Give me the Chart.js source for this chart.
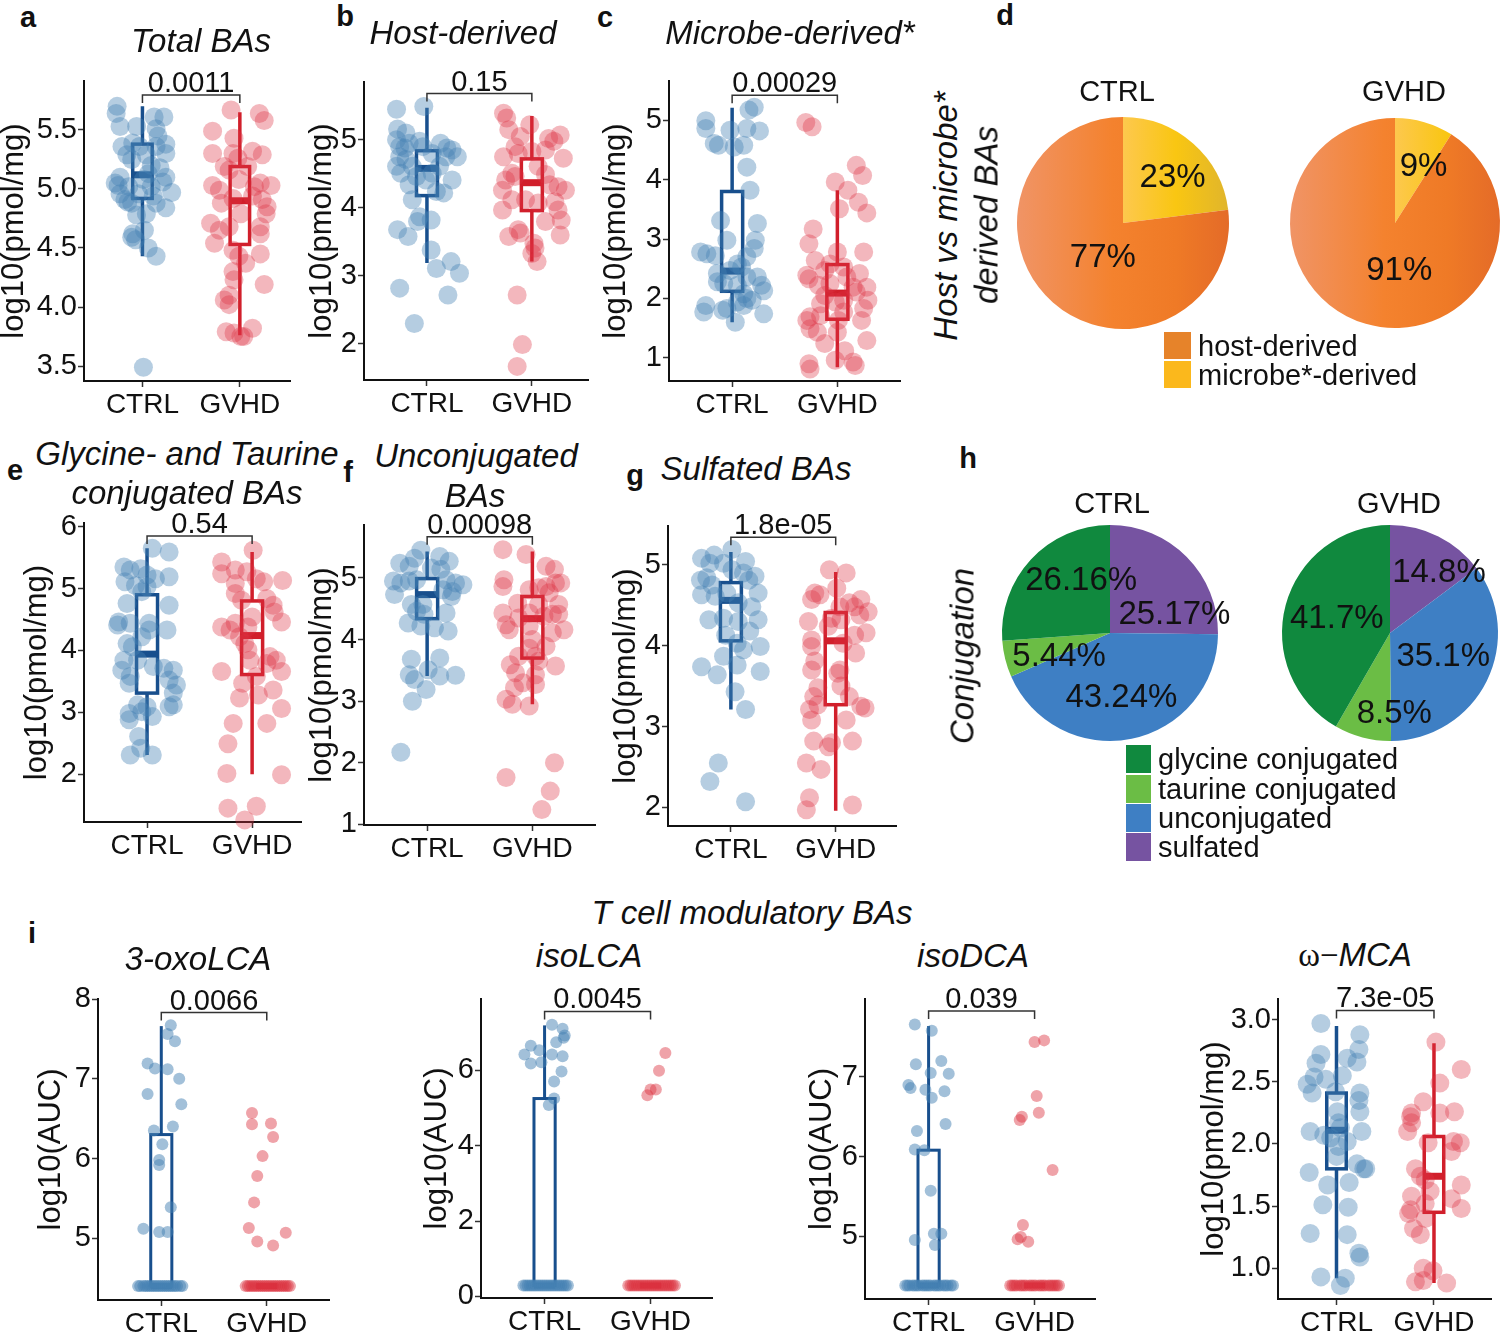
<!DOCTYPE html>
<html>
<head>
<meta charset="utf-8">
<script src="https://cdn.jsdelivr.net/npm/chart.js@4.4.1/dist/chart.umd.min.js"></script>
<style>
  html, body { margin: 0; padding: 0; background: #fff; }
  body { position: relative; width: 1500px; height: 1332px; overflow: hidden;
         font-family: "Liberation Sans", Arial, Helvetica, sans-serif; color: #111; }
  .lbl { position: absolute; white-space: nowrap; line-height: 1; transform: translate(-50%, -50%); }
  .rot { transform: translate(-50%, -50%) rotate(-90deg); }
  .panel { position: absolute; }
  .sq { position: absolute; }
  .key { position: absolute; white-space: nowrap; line-height: 1; transform: translateY(-50%); font-size: 29px; }
</style>
</head>
<body>
<script>
// ===== DATA =====
const groups = ['CTRL', 'GVHD'];

// a - Total BAs  ([jitter, log10 value])
const totalCtrl = [[-0.26,5.70],[-0.27,5.64],[-0.23,5.53],[-0.06,5.53],[0.12,5.61],[0.22,5.61],[0.14,5.51],[0.16,5.45],
  [-0.21,5.36],[-0.10,5.39],[-0.03,5.36],[0.24,5.38],[0.14,5.36],[-0.16,5.29],[-0.11,5.25],[0.04,5.29],
  [0.24,5.30],[0.09,5.20],[0.06,5.13],[0.18,5.18],[0.24,5.10],[0.21,5.06],[-0.23,5.10],[-0.28,5.05],
  [-0.25,5.03],[-0.14,5.02],[-0.04,4.96],[0.09,5.02],[0.30,4.97],[-0.23,4.96],[-0.18,4.91],[-0.15,4.89],
  [-0.11,4.88],[0.14,4.88],[0.24,4.84],[-0.06,4.78],[0.04,4.79],[0.02,4.65],[-0.10,4.62],[-0.11,4.59],
  [-0.07,4.57],[0.06,4.50],[0.14,4.43],[0.01,3.49],[0.11,4.94],[0.01,5.08]];
const totalGvhd = [[-0.09,5.67],[0.20,5.64],[0.25,5.58],[-0.28,5.49],[-0.06,5.43],[-0.28,5.30],[-0.07,5.30],[-0.02,5.26],
  [0.13,5.32],[0.23,5.29],[-0.16,5.19],[-0.11,5.16],[0.08,5.19],[-0.28,5.03],[-0.21,4.99],[-0.01,5.08],
  [0.15,5.02],[0.21,5.05],[0.32,5.03],[-0.19,4.88],[-0.07,4.92],[0.13,4.94],[0.23,4.91],[0.28,4.85],
  [0.27,4.79],[-0.30,4.71],[-0.21,4.65],[-0.11,4.68],[0.01,4.79],[0.21,4.68],[0.21,4.62],[-0.26,4.54],
  [-0.07,4.48],[-0.01,4.43],[0.06,4.37],[0.21,4.45],[-0.07,4.30],[-0.06,4.23],[0.25,4.19],[-0.11,4.10],
  [-0.16,4.06],[-0.11,4.02],[-0.06,3.78],[0.01,3.75],[0.13,3.82],[-0.14,3.79],[0.04,3.75]];
const totalStats = [[4.43,4.92,5.12,5.38,5.70],[3.76,4.53,4.90,5.19,5.65]]; // lo, q1, median, q3, hi
const totalTicks = [3.5, 4.0, 4.5, 5.0, 5.5];
const totalP = '0.0011';

// b - Host-derived
const hostCtrl = [[-0.29,5.45],[-0.03,5.49],[-0.28,5.16],[-0.20,5.10],[-0.29,5.00],[-0.26,4.90],[-0.21,4.88],[-0.07,4.98],
  [-0.04,4.90],[0.13,4.95],[0.19,4.88],[0.24,4.85],[-0.26,4.75],[-0.20,4.71],[0.18,4.75],[0.29,4.75],
  [-0.29,4.61],[-0.25,4.51],[-0.14,4.61],[-0.10,4.46],[0.05,4.51],[0.12,4.61],[0.24,4.41],[-0.17,4.34],
  [-0.01,4.41],[0.09,4.24],[0.16,4.22],[-0.14,4.12],[-0.07,3.87],[-0.09,3.80],[0.04,3.82],[-0.28,3.68],
  [-0.18,3.58],[0.04,3.38],[0.23,3.21],[0.09,3.11],[0.31,3.04],[-0.26,2.82],[0.20,2.72],[-0.12,2.30],
  [-0.17,4.95],[0.05,4.80]];
const hostGvhd = [[-0.27,5.39],[-0.24,5.32],[-0.02,5.22],[-0.22,5.15],[-0.11,5.05],[0.16,5.02],[0.27,5.07],[0.21,4.98],
  [-0.27,4.75],[-0.16,4.90],[0.00,4.83],[0.13,4.85],[-0.13,4.80],[0.30,4.73],[-0.19,4.51],[-0.25,4.41],
  [-0.16,4.46],[0.06,4.61],[0.13,4.49],[0.17,4.34],[0.25,4.31],[0.32,4.26],[-0.28,4.26],[-0.19,4.12],
  [-0.28,3.97],[-0.06,4.12],[0.06,4.07],[0.22,4.09],[0.25,3.97],[0.28,3.82],[0.13,3.80],[-0.13,3.68],
  [-0.22,3.58],[-0.11,3.63],[0.27,3.60],[0.02,3.48],[0.03,3.41],[0.00,3.33],[0.05,3.21],[-0.14,2.72],
  [-0.09,1.99],[-0.14,1.67]];
const hostStats = [[3.19,4.18,4.58,4.84,5.47],[3.21,3.96,4.37,4.72,5.35]];
const hostTicks = [2, 3, 4, 5];
const hostP = '0.15';

// c - Microbe-derived*
const microbeCtrl = [[-0.25,4.99],[-0.25,4.86],[-0.02,4.83],[0.14,4.86],[0.26,4.82],[0.16,5.17],[0.21,5.22],[-0.17,4.61],
  [-0.13,4.58],[0.02,4.55],[0.11,4.58],[0.14,4.21],[0.17,3.82],[-0.11,3.31],[0.24,3.26],[-0.05,2.98],
  [0.22,2.98],[-0.30,2.78],[-0.24,2.75],[-0.16,2.72],[0.21,2.84],[0.14,2.70],[0.05,2.58],[0.09,2.53],
  [-0.02,2.47],[-0.14,2.42],[0.14,2.36],[0.24,2.36],[-0.14,2.28],[-0.08,2.25],[0.05,2.22],[0.28,2.22],
  [0.30,2.13],[0.11,2.08],[0.14,2.00],[0.05,1.94],[0.11,1.88],[-0.25,1.88],[-0.27,1.77],[-0.09,1.80],
  [-0.05,1.83],[0.30,1.74],[0.03,1.60],[0.19,1.97]];
const microbeGvhd = [[-0.30,4.96],[-0.24,4.89],[0.18,4.24],[0.24,4.07],[-0.02,3.96],[0.10,3.82],[0.20,3.62],[0.02,3.51],
  [0.28,3.44],[-0.23,3.17],[-0.27,2.92],[0.00,2.78],[0.25,2.78],[-0.21,2.64],[-0.07,2.58],[-0.12,2.47],
  [0.06,2.53],[0.21,2.42],[-0.29,2.39],[-0.27,2.33],[-0.18,2.22],[-0.07,2.25],[0.09,2.36],[0.15,2.19],
  [0.18,2.11],[0.28,2.19],[-0.12,2.05],[0.06,1.97],[-0.02,1.94],[-0.16,1.91],[0.29,1.97],[0.25,1.83],
  [0.06,1.77],[-0.26,1.69],[-0.16,1.71],[-0.29,1.63],[0.01,1.63],[0.23,1.63],[-0.26,1.49],[-0.19,1.43],
  [0.00,1.43],[0.28,1.29],[-0.12,1.24],[0.07,1.12],[-0.02,0.96],[-0.27,0.90],[-0.26,0.81],[0.15,0.93],
  [0.17,0.87]];
const microbeStats = [[1.60,2.12,2.46,3.80,5.21],[0.84,1.65,2.09,2.57,3.82]];
const microbeTicks = [1, 2, 3, 4, 5];
const microbeP = '0.00029';

// d - host vs microbe* pies (microbe first, clockwise from 12 o'clock)
const originLabels = ['microbe*-derived', 'host-derived'];
const originCtrl = [23, 77];
const originGvhd = [9, 91];

// e - Glycine- and Taurine conjugated
const conjCtrl = [[0.05,5.65],[0.21,5.59],[-0.22,5.35],[-0.16,5.30],[-0.06,5.32],[0.00,5.22],[0.08,5.16],[0.21,5.19],
  [-0.21,5.11],[-0.11,5.05],[0.00,5.03],[-0.05,4.95],[-0.19,4.76],[0.21,4.73],[-0.27,4.46],[-0.28,4.41],
  [-0.16,4.44],[0.02,4.44],[0.02,4.33],[0.19,4.33],[-0.19,4.11],[-0.14,4.06],[-0.05,4.22],[-0.22,3.84],
  [-0.09,3.84],[-0.24,3.68],[-0.16,3.58],[0.06,3.74],[0.16,3.71],[0.25,3.68],[-0.17,3.47],[0.21,3.52],
  [0.28,3.44],[0.25,3.31],[0.25,3.12],[0.21,3.09],[-0.09,3.12],[0.00,3.09],[-0.17,2.98],[-0.05,3.01],
  [0.05,2.93],[-0.17,2.88],[-0.08,2.61],[-0.06,2.42],[-0.16,2.31],[0.05,2.31]];
const conjGvhd = [[0.01,5.62],[-0.29,5.43],[-0.29,5.24],[-0.16,5.30],[-0.05,5.27],[0.04,5.16],[0.11,5.11],[0.29,5.13],
  [-0.16,5.08],[-0.16,4.92],[-0.10,4.81],[0.14,4.84],[0.20,4.73],[0.21,4.62],[0.28,4.46],[0.00,4.54],
  [-0.29,4.38],[-0.21,4.33],[-0.16,4.44],[-0.04,4.38],[-0.12,4.22],[-0.07,4.11],[-0.04,4.01],[-0.02,3.84],
  [0.17,3.90],[0.23,3.84],[0.14,3.79],[-0.29,3.66],[0.28,3.66],[0.04,3.58],[-0.09,3.47],[0.20,3.36],
  [-0.12,3.23],[0.06,3.28],[0.28,3.06],[-0.18,2.82],[0.14,2.82],[-0.23,2.49],[-0.24,2.01],[0.28,1.99],
  [-0.23,1.45],[0.04,1.48],[-0.07,1.26]];
const conjStats = [[2.31,3.31,3.94,4.90,5.65],[2.00,3.61,4.24,4.80,5.59]];
const conjTicks = [2, 3, 4, 5, 6];
const conjP = '0.54';

// f - Unconjugated
const unconjCtrl = [[-0.06,5.45],[-0.26,5.24],[-0.12,5.32],[0.12,5.35],[0.21,5.27],[-0.17,5.19],[0.04,5.16],[0.13,5.14],
  [-0.32,4.95],[-0.25,4.92],[-0.17,4.95],[-0.10,4.97],[0.18,4.97],[0.27,4.92],[0.34,4.89],[-0.31,4.73],
  [0.15,4.81],[0.24,4.78],[0.23,4.70],[-0.15,4.57],[-0.04,4.57],[0.18,4.43],[-0.10,4.46],[-0.03,4.41],
  [-0.18,4.27],[-0.06,4.22],[0.07,4.19],[0.20,4.14],[-0.15,3.68],[0.12,3.70],[-0.17,3.43],[0.01,3.51],
  [0.12,3.41],[0.27,3.42],[-0.12,3.35],[-0.01,3.19],[-0.14,3.00],[-0.25,2.17]];
const unconjGvhd = [[-0.28,5.46],[-0.06,5.38],[0.13,5.19],[0.21,5.14],[-0.27,4.97],[-0.28,4.86],[-0.03,4.81],[0.06,4.84],
  [0.13,4.86],[0.22,4.92],[0.27,4.92],[0.16,4.76],[-0.14,4.59],[0.06,4.57],[0.25,4.57],[-0.28,4.43],
  [-0.03,4.43],[0.19,4.41],[0.25,4.41],[-0.13,4.35],[0.11,4.38],[-0.25,4.24],[-0.22,4.16],[-0.03,4.22],
  [0.19,4.11],[0.30,4.16],[0.00,4.00],[-0.03,3.86],[-0.13,3.73],[0.03,3.73],[0.13,3.89],[0.06,3.65],
  [-0.21,3.59],[0.22,3.57],[-0.16,3.46],[0.03,3.43],[-0.09,3.30],[-0.17,3.22],[0.03,3.27],[-0.25,3.03],
  [-0.19,2.95],[-0.03,2.92],[-0.25,1.76],[0.21,2.00],[0.17,1.54],[0.09,1.24]];
const unconjStats = [[3.41,4.34,4.73,4.99,5.43],[2.95,3.70,4.34,4.70,5.43]];
const unconjTicks = [1, 2, 3, 4, 5];
const unconjP = '0.00098';

// g - Sulfated
const sulfCtrl = [[0.01,5.19],[-0.28,5.08],[-0.16,5.12],[-0.20,5.02],[-0.07,5.02],[0.14,5.04],[0.01,4.94],[0.12,4.90],
  [-0.29,4.81],[-0.23,4.84],[0.23,4.86],[0.17,4.81],[-0.18,4.75],[-0.28,4.63],[-0.15,4.61],[-0.04,4.65],
  [0.26,4.65],[0.07,4.53],[0.20,4.48],[-0.21,4.32],[-0.07,4.34],[0.07,4.30],[0.26,4.32],[0.18,4.18],
  [-0.05,4.13],[0.06,4.03],[0.12,3.95],[0.28,3.99],[-0.07,3.87],[0.06,3.76],[-0.28,3.74],[0.28,3.68],
  [-0.13,3.64],[0.04,3.43],[0.14,3.21],[-0.12,2.55],[-0.20,2.32],[0.14,2.07]];
const sulfGvhd = [[-0.06,4.94],[0.10,4.90],[0.01,4.71],[-0.20,4.65],[-0.15,4.63],[-0.23,4.57],[0.24,4.57],[0.13,4.53],
  [0.18,4.48],[0.04,4.48],[0.31,4.42],[0.23,4.38],[-0.04,4.34],[0.05,4.32],[-0.26,4.30],[-0.07,4.24],
  [0.29,4.16],[0.18,4.13],[-0.23,4.07],[-0.23,3.99],[0.07,4.03],[0.19,3.91],[-0.20,3.81],[-0.23,3.70],
  [0.04,3.70],[0.02,3.66],[0.05,3.50],[-0.17,3.48],[-0.21,3.37],[0.13,3.37],[-0.25,3.21],[-0.17,3.27],
  [0.24,3.25],[0.28,3.23],[-0.23,3.08],[0.10,3.08],[-0.21,2.82],[-0.07,2.75],[-0.04,2.80],[0.16,2.82],
  [-0.28,2.55],[-0.14,2.47],[-0.25,2.12],[-0.28,1.97],[0.16,2.03]];
const sulfStats = [[3.21,4.06,4.56,4.78,5.16],[1.96,3.27,4.06,4.41,4.91]];
const sulfTicks = [2, 3, 4, 5];
const sulfP = '1.8e-05';

// h - conjugation pies (sulfated, unconjugated, taurine, glycine; clockwise from 12 o'clock)
const conjLabels = ['sulfated', 'unconjugated', 'taurine conjugated', 'glycine conjugated'];
const conjPieCtrl = [25.17, 43.24, 5.44, 26.16];
const conjPieGvhd = [14.8, 35.1, 8.5, 41.7];

// i - T cell modulatory BAs
const oxoCtrl = [[0.09,7.67],[0.06,7.56],[0.13,7.47],[-0.13,7.19],[-0.06,7.13],[0.06,7.12],[0.17,7.00],[-0.13,6.81],
  [0.19,6.68],[0.11,6.40],[-0.07,6.35],[0.01,6.18],[-0.02,5.98],[-0.02,5.92],[0.09,5.39],[-0.17,5.12],
  [-0.02,5.08],[0.06,5.08],
  [-0.22,4.40],[-0.20,4.40],[-0.17,4.40],[-0.15,4.40],[-0.13,4.40],[-0.11,4.40],[-0.09,4.40],[-0.07,4.40],
  [-0.05,4.40],[-0.03,4.40],[-0.01,4.40],[0.01,4.40],[0.03,4.40],[0.05,4.40],[0.07,4.40],[0.09,4.40],
  [0.11,4.40],[0.13,4.40],[0.15,4.40],[0.18,4.40],[0.20,4.40]];
const oxoGvhd = [[-0.14,6.57],[-0.14,6.43],[0.04,6.44],[0.06,6.27],[-0.04,6.03],[-0.09,5.78],[-0.12,5.45],[-0.17,5.13],
  [0.18,5.07],[-0.09,4.96],[0.06,4.91],
  [-0.20,4.40],[-0.18,4.40],[-0.16,4.40],[-0.14,4.40],[-0.12,4.40],[-0.10,4.40],[-0.08,4.40],[-0.06,4.40],
  [-0.04,4.40],[-0.02,4.40],[0.00,4.40],[0.02,4.40],[0.04,4.40],[0.06,4.40],[0.08,4.40],[0.10,4.40],
  [0.12,4.40],[0.14,4.40],[0.16,4.40],[0.18,4.40],[0.20,4.40],[0.22,4.40]];
const oxoStats = [[4.40,4.40,4.40,6.30,7.66],[4.40,4.40,4.40,4.40,4.40]];
const oxoTicks = [5, 6, 7, 8];
const oxoP = '0.0066';

const isoLcaCtrl = [[0.07,7.21],[0.17,7.10],[0.18,6.86],[0.11,6.74],[-0.13,6.65],[-0.05,6.53],[-0.19,6.42],[0.07,6.42],
  [0.17,6.37],[-0.13,6.18],[-0.03,6.21],[0.16,5.97],[0.09,5.70],[0.09,5.25],[0.04,5.08],[0.19,6.92],
  [-0.20,0.29],[-0.18,0.29],[-0.16,0.29],[-0.14,0.29],[-0.12,0.29],[-0.10,0.29],[-0.08,0.29],[-0.06,0.29],
  [-0.04,0.29],[-0.02,0.29],[0.00,0.29],[0.02,0.29],[0.04,0.29],[0.06,0.29],[0.08,0.29],[0.10,0.29],
  [0.12,0.29],[0.14,0.29],[0.16,0.29],[0.18,0.29],[0.20,0.29],[0.22,0.29]];
const isoLcaGvhd = [[0.14,6.46],[0.08,5.99],[0.05,5.49],[0.00,5.49],[-0.03,5.34],
  [-0.21,0.29],[-0.19,0.29],[-0.17,0.29],[-0.15,0.29],[-0.13,0.29],[-0.11,0.29],[-0.09,0.29],[-0.07,0.29],
  [-0.05,0.29],[-0.03,0.29],[-0.01,0.29],[0.01,0.29],[0.03,0.29],[0.05,0.29],[0.07,0.29],[0.09,0.29],
  [0.11,0.29],[0.13,0.29],[0.15,0.29],[0.17,0.29],[0.19,0.29],[0.21,0.29],[0.23,0.29]];
const isoLcaStats = [[0.29,0.29,0.29,5.25,7.19],[0.29,0.29,0.29,0.29,0.29]];
const isoLcaTicks = [0, 2, 4, 6];
const isoLcaP = '0.0045';

const isoDcaCtrl = [[-0.13,7.66],[0.03,7.58],[-0.12,7.16],[0.12,7.20],[0.02,7.05],[0.19,7.04],[-0.19,6.90],[-0.17,6.86],
  [-0.03,6.84],[0.15,6.82],[0.03,6.74],[0.16,6.41],[-0.11,6.32],[-0.13,6.09],[-0.04,6.08],[0.02,5.57],
  [-0.13,4.95],[0.05,5.03],[0.12,5.03],[0.06,4.89],
  [-0.22,4.38],[-0.20,4.38],[-0.18,4.38],[-0.15,4.38],[-0.13,4.38],[-0.11,4.38],[-0.09,4.38],[-0.06,4.38],
  [-0.04,4.38],[-0.02,4.38],[0.00,4.38],[0.02,4.38],[0.05,4.38],[0.07,4.38],[0.09,4.38],[0.11,4.38],
  [0.14,4.38],[0.16,4.38],[0.18,4.38],[0.21,4.38],[0.23,4.38]];
const isoDcaGvhd = [[0.00,7.44],[0.09,7.46],[0.02,6.76],[0.04,6.55],[-0.12,6.50],[-0.14,6.46],[0.17,5.83],[-0.11,5.14],
  [-0.13,4.99],[-0.16,4.96],[-0.06,4.93],
  [-0.23,4.38],[-0.21,4.38],[-0.19,4.38],[-0.17,4.38],[-0.14,4.38],[-0.12,4.38],[-0.10,4.38],[-0.08,4.38],
  [-0.05,4.38],[-0.03,4.38],[-0.01,4.38],[0.01,4.38],[0.04,4.38],[0.06,4.38],[0.08,4.38],[0.10,4.38],
  [0.13,4.38],[0.15,4.38],[0.17,4.38],[0.19,4.38],[0.21,4.38],[0.23,4.38]];
const isoDcaStats = [[4.38,4.38,4.38,6.08,7.64],[4.38,4.38,4.38,4.38,4.38]];
const isoDcaTicks = [5, 6, 7];
const isoDcaP = '0.039';

const mcaCtrl = [[-0.16,2.97],[0.24,2.88],[-0.16,2.72],[0.11,2.69],[0.23,2.76],[0.21,2.66],[-0.21,2.65],[-0.23,2.54],
  [-0.11,2.52],[0.06,2.55],[-0.30,2.48],[-0.25,2.41],[0.24,2.41],[0.23,2.35],[-0.01,2.42],[0.01,2.26],
  [0.24,2.26],[0.02,2.17],[0.04,2.13],[-0.27,2.10],[0.26,2.10],[-0.13,2.07],[-0.06,2.05],[0.11,2.02],
  [0.02,1.98],[0.00,1.90],[0.21,1.84],[0.28,1.80],[0.30,1.80],[-0.28,1.77],[0.13,1.69],[-0.09,1.67],
  [-0.14,1.51],[0.12,1.49],[-0.27,1.28],[0.11,1.27],[0.23,1.12],[0.24,1.09],[-0.16,0.93],[0.09,0.92],
  [0.04,0.86]];
const mcaGvhd = [[0.02,2.82],[0.06,2.49],[0.28,2.60],[-0.11,2.34],[-0.23,2.25],[0.06,2.25],[0.21,2.26],[-0.24,2.22],
  [-0.23,2.17],[-0.27,2.10],[-0.06,2.01],[0.20,2.02],[0.27,2.01],[0.18,1.94],[-0.19,1.80],[-0.14,1.74],
  [-0.09,1.71],[0.28,1.67],[-0.04,1.62],[-0.23,1.58],[0.18,1.56],[0.28,1.48],[-0.24,1.47],[-0.26,1.44],
  [-0.09,1.52],[-0.09,1.40],[-0.21,1.32],[-0.14,1.27],[-0.11,1.00],[-0.01,0.98],[-0.11,0.90],[-0.19,0.89],
  [0.13,0.88]];
const mcaStats = [[0.92,1.80,2.11,2.41,2.95],[0.88,1.45,1.74,2.06,2.81]];
const mcaTicks = [1.0, 1.5, 2.0, 2.5, 3.0];
const mcaP = '7.3e-05';

// ===== STYLE =====
const FONT = '"Liberation Sans", Arial, Helvetica, sans-serif';
const BOX_COLORS = ['#184f8d', '#d11f2b'];
const PAD_TOP = 24, PAD_RIGHT = 8, X_AXIS_H = 50;
Chart.defaults.font.family = FONT;
Chart.defaults.color = '#111';

const PMOL = 'log10(pmol/mg)', AUC = 'log10(AUC)';

// plot rect (L, T, B), pixels per category, axis width (places y title)
const boxPanels = [
  { L: 84,   T: 81,  B: 381,  unit: 98,    xMax: 2.52, yMin: 3.373, yMax: 5.915, axisW: 88, dec: 1, yTitle: PMOL,
    ticks: totalTicks, ctrl: totalCtrl, gvhd: totalGvhd, stats: totalStats, p: totalP, bracket: 5.797, r: 9.5, lw: 3.5, alpha: 0.4 },
  { L: 364,  T: 82,  B: 380,  unit: 105.7, xMax: 2.54, yMin: 1.47, yMax: 5.85, axisW: 60, dec: 0, yTitle: PMOL,
    ticks: hostTicks, ctrl: hostCtrl, gvhd: hostGvhd, stats: hostStats, p: hostP, bracket: 5.68, r: 9.5, lw: 3.5, alpha: 0.4 },
  { L: 669,  T: 81,  B: 381,  unit: 105.7, xMax: 2.6, yMin: 0.61, yMax: 5.66, axisW: 71, dec: 0, yTitle: PMOL,
    ticks: microbeTicks, ctrl: microbeCtrl, gvhd: microbeGvhd, stats: microbeStats, p: microbeP, bracket: 5.42, r: 9.5, lw: 3.5, alpha: 0.4 },
  { L: 84,   T: 523, B: 822,  unit: 105.7, xMax: 2.47, yMin: 1.226, yMax: 6.06, axisW: 65, dec: 0, yTitle: PMOL,
    ticks: conjTicks, ctrl: conjCtrl, gvhd: conjGvhd, stats: conjStats, p: conjP, bracket: 5.85, r: 9.5, lw: 3.5, alpha: 0.4 },
  { L: 364,  T: 525, B: 825,  unit: 105.7, xMax: 2.6, yMin: 0.99, yMax: 5.86, axisW: 60, dec: 0, yTitle: PMOL,
    ticks: unconjTicks, ctrl: unconjCtrl, gvhd: unconjGvhd, stats: unconjStats, p: unconjP, bracket: 5.67, r: 9.5, lw: 3.5, alpha: 0.4 },
  { L: 668,  T: 526, B: 826,  unit: 105.3, xMax: 2.58, yMin: 1.77, yMax: 5.48, axisW: 60, dec: 0, yTitle: PMOL,
    ticks: sulfTicks, ctrl: sulfCtrl, gvhd: sulfGvhd, stats: sulfStats, p: sulfP, bracket: 5.34, r: 9.5, lw: 3.5, alpha: 0.4 },
  { L: 98,   T: 999, B: 1300, unit: 105.7, xMax: 2.59, yMin: 4.226, yMax: 8.0, axisW: 65, dec: 0, yTitle: AUC,
    ticks: oxoTicks, ctrl: oxoCtrl, gvhd: oxoGvhd, stats: oxoStats, p: oxoP, bracket: 7.83, r: 6, lw: 3, alpha: 0.5 },
  { L: 481,  T: 999, B: 1298, unit: 106,   xMax: 2.58, yMin: -0.04, yMax: 7.89, axisW: 62, dec: 0, yTitle: AUC,
    ticks: isoLcaTicks, ctrl: isoLcaCtrl, gvhd: isoLcaGvhd, stats: isoLcaStats, p: isoLcaP, bracket: 7.56, r: 6, lw: 3, alpha: 0.5 },
  { L: 865,  T: 999, B: 1299, unit: 106,   xMax: 2.57, yMin: 4.21, yMax: 7.98, axisW: 61, dec: 0, yTitle: AUC,
    ticks: isoDcaTicks, ctrl: isoDcaCtrl, gvhd: isoDcaGvhd, stats: isoDcaStats, p: isoDcaP, bracket: 7.83, r: 6, lw: 3, alpha: 0.5 },
  { L: 1278, T: 999, B: 1299, unit: 98,    xMax: 2.59, yMin: 0.752, yMax: 3.167, axisW: 82, dec: 1, yTitle: PMOL,
    ticks: mcaTicks, ctrl: mcaCtrl, gvhd: mcaGvhd, stats: mcaStats, p: mcaP, bracket: 3.075, r: 9.5, lw: 3.5, alpha: 0.4 }
];

// ===== BOX PLOTS =====
function boxLayer(p) {
  return {
    id: 'boxLayer',
    beforeDatasetsDraw(chart) {
      const { ctx, scales: { x, y } } = chart;
      p.stats.forEach((s, i) => {
        const [lo, q1, med, q3, hi] = s;
        const xc = x.getPixelForValue(i + 1);
        const x0 = x.getPixelForValue(i + 0.9), x1 = x.getPixelForValue(i + 1.1);
        const yt = y.getPixelForValue(q3), yb = y.getPixelForValue(q1), ym = y.getPixelForValue(med);
        ctx.save();
        ctx.strokeStyle = BOX_COLORS[i];
        ctx.lineWidth = p.lw;
        ctx.beginPath();
        ctx.moveTo(xc, yt); ctx.lineTo(xc, y.getPixelForValue(hi));
        ctx.moveTo(xc, yb); ctx.lineTo(xc, y.getPixelForValue(lo));
        ctx.stroke();
        ctx.fillStyle = '#fff';
        ctx.fillRect(x0, yt, x1 - x0, yb - yt);
        ctx.strokeRect(x0, yt, x1 - x0, yb - yt);
        ctx.lineWidth = p.lw * 2;
        ctx.beginPath(); ctx.moveTo(x0, ym); ctx.lineTo(x1, ym); ctx.stroke();
        ctx.restore();
      });
    },
    afterDraw(chart) {
      const { ctx, scales: { x, y } } = chart;
      const yb = y.getPixelForValue(p.bracket);
      const xa = x.getPixelForValue(1), xb = x.getPixelForValue(2);
      ctx.save();
      ctx.strokeStyle = '#333';
      ctx.lineWidth = 1.5;
      ctx.beginPath();
      ctx.moveTo(xa, yb + 8); ctx.lineTo(xa, yb); ctx.lineTo(xb, yb); ctx.lineTo(xb, yb + 8);
      ctx.stroke();
      ctx.font = '29px ' + FONT;
      ctx.fillStyle = '#111';
      ctx.textAlign = 'center';
      ctx.textBaseline = 'alphabetic';
      ctx.fillText(p.p, (xa + xb) / 2, yb - 3);
      ctx.restore();
    }
  };
}

function makeBoxChart(p) {
  const plotW = Math.round((p.xMax - 0.4) * p.unit);
  const div = document.createElement('div');
  div.className = 'panel';
  div.style.left = (p.L - p.axisW) + 'px';
  div.style.top = (p.T - PAD_TOP) + 'px';
  const canvas = document.createElement('canvas');
  canvas.width = p.axisW + plotW + PAD_RIGHT;
  canvas.height = PAD_TOP + (p.B - p.T) + X_AXIS_H;
  div.appendChild(canvas);
  document.body.appendChild(div);

  const toPts = (arr, g) => arr.map(([dx, v]) => ({ x: g + dx, y: v }));

  new Chart(canvas, {
    type: 'scatter',
    data: {
      datasets: [
        { label: groups[0], data: toPts(p.ctrl, 1), backgroundColor: `rgba(70,130,180,${p.alpha})`,
          pointRadius: p.r, borderWidth: 0, clip: false },
        { label: groups[1], data: toPts(p.gvhd, 2), backgroundColor: `rgba(220,50,65,${p.alpha - 0.05})`,
          pointRadius: p.r, borderWidth: 0, clip: false }
      ]
    },
    options: {
      responsive: false,
      animation: false,
      events: [],
      layout: { padding: { top: PAD_TOP, right: PAD_RIGHT, left: 0, bottom: 0 } },
      plugins: { legend: { display: false }, tooltip: { enabled: false } },
      scales: {
        x: {
          type: 'linear', min: 0.4, max: p.xMax,
          afterBuildTicks: ax => { ax.ticks = [{ value: 1 }, { value: 2 }]; },
          afterFit: s => { s.height = X_AXIS_H; },
          ticks: { callback: v => groups[Math.round(v) - 1], font: { size: 28 }, color: '#111',
                   padding: 1, maxRotation: 0, autoSkip: false },
          grid: { drawOnChartArea: false, tickLength: 6, tickWidth: 1.5, tickColor: '#333' },
          border: { display: true, color: '#111', width: 2 }
        },
        y: {
          min: p.yMin, max: p.yMax,
          afterBuildTicks: ax => { ax.ticks = p.ticks.map(v => ({ value: v })); },
          afterFit: s => { s.width = p.axisW; },
          ticks: { callback: v => v.toFixed(p.dec), font: { size: 29 }, color: '#111', padding: 1, autoSkip: false },
          grid: { drawOnChartArea: false, tickLength: 6, tickWidth: 1.5, tickColor: '#333' },
          border: { display: true, color: '#111', width: 2 },
          title: { display: true, text: p.yTitle, font: { size: 31 }, color: '#111', padding: 0 }
        }
      }
    },
    plugins: [boxLayer(p)]
  });
}

boxPanels.forEach(makeBoxChart);

// ===== PIES =====
function gradientFill(stops) {
  return ctx => {
    const area = ctx.chart.chartArea;
    if (!area) return stops[1][1];
    const g = ctx.chart.ctx.createLinearGradient(area.left, 0, area.right, 0);
    stops.forEach(([pos, c]) => g.addColorStop(pos, c));
    return g;
  };
}
const hostFill = gradientFill([[0, '#f09466'], [0.45, '#f4822e'], [0.75, '#ef7a26'], [1, '#e46b28']]);
const microbeFill = gradientFill([[0, '#fed77e'], [0.5, '#fdc84e'], [0.75, '#f9c612'], [1, '#e0b52c']]);
const originFill = ctx => [microbeFill, hostFill][ctx.dataIndex](ctx);
const conjColors = ['#7653a1', '#3e7fc4', '#6bbd45', '#10893e'];

// label placement inside each pie: [fraction of radius, angle in degrees clockwise from 12 o'clock]
const originCtrlAt = [[0.63, 48], [0.38, 210]];
const originGvhdAt = [[0.60, 27], [0.46, 175]];
const conjCtrlAt = [[0.62, 74], [0.61, 170], [0.52, 245], [0.55, 331]];
const conjGvhdAt = [[0.72, 39], [0.54, 114], [0.75, 177], [0.51, 285]];

function pieText(at) {
  return {
    id: 'pieText',
    afterDatasetsDraw(chart) {
      const { ctx } = chart;
      const values = chart.data.datasets[0].data;
      ctx.save();
      ctx.font = '33px ' + FONT;
      ctx.fillStyle = '#111';
      ctx.textAlign = 'center';
      ctx.textBaseline = 'middle';
      chart.getDatasetMeta(0).data.forEach((arc, i) => {
        const { x, y, outerRadius } = arc.getProps(['x', 'y', 'outerRadius'], true);
        const [f, deg] = at[i];
        const a = (deg - 90) * Math.PI / 180;
        ctx.fillText(values[i] + '%', x + Math.cos(a) * outerRadius * f, y + Math.sin(a) * outerRadius * f);
      });
      ctx.restore();
    }
  };
}

function makePie(cx, cy, radius, labels, values, fills, at) {
  const pad = 40;
  const size = 2 * radius + 2 * pad;
  const div = document.createElement('div');
  div.className = 'panel';
  div.style.left = (cx - radius - pad) + 'px';
  div.style.top = (cy - radius - pad) + 'px';
  const canvas = document.createElement('canvas');
  canvas.width = size; canvas.height = size;
  div.appendChild(canvas);
  document.body.appendChild(div);
  new Chart(canvas, {
    type: 'pie',
    data: { labels, datasets: [{ data: values, backgroundColor: fills, borderWidth: 0 }] },
    options: {
      responsive: false, animation: false, events: [],
      layout: { padding: pad },
      plugins: { legend: { display: false }, tooltip: { enabled: false } }
    },
    plugins: [pieText(at)]
  });
}

makePie(1123, 223, 106, originLabels, originCtrl, originFill, originCtrlAt);
makePie(1395, 223, 105, originLabels, originGvhd, originFill, originGvhdAt);
makePie(1110, 633, 108, conjLabels, conjPieCtrl, conjColors, conjCtrlAt);
makePie(1390, 633, 108, conjLabels, conjPieGvhd, conjColors, conjGvhdAt);

// ===== TEXT =====
function label(html, x, y, css) {
  const el = document.createElement('div');
  el.className = 'lbl' + (css.rot ? ' rot' : '');
  el.innerHTML = html;
  el.style.left = x + 'px';
  el.style.top = y + 'px';
  el.style.fontSize = (css.size || 32) + 'px';
  if (css.bold) el.style.fontWeight = 'bold';
  if (css.italic) el.style.fontStyle = 'italic';
  document.body.appendChild(el);
}

const letters = [['a', 28, 17], ['b', 345, 16], ['c', 605, 17], ['d', 1005, 15], ['e', 15, 470],
                 ['f', 348, 472], ['g', 635, 475], ['h', 968, 458], ['i', 32, 933]];
letters.forEach(([t, x, y]) => label(t, x, y, { size: 29, bold: true }));

const titles = [
  ['Total BAs', 201, 40], ['Host-derived', 463, 32], ['Microbe-derived*', 790, 32],
  ['Glycine- and Taurine', 187, 453], ['conjugated BAs', 187, 492],
  ['Unconjugated', 476, 455], ['BAs', 475, 495], ['Sulfated BAs', 756, 468],
  ['T cell modulatory BAs', 752, 912],
  ['3-oxoLCA', 198, 958], ['isoLCA', 589, 955], ['isoDCA', 973, 955],
  ['<span style="font-style:normal;font-family:\'Liberation Serif\',serif">ω−</span>MCA', 1355, 955]
];
titles.forEach(([t, x, y]) => label(t, x, y, { size: 33, italic: true }));

[['CTRL', 1117, 91], ['GVHD', 1404, 91], ['CTRL', 1112, 503], ['GVHD', 1399, 503]]
  .forEach(([t, x, y]) => label(t, x, y, { size: 29 }));

label('Host vs microbe*', 945, 216, { size: 33, italic: true, rot: true });
label('derived BAs', 986, 215, { size: 33, italic: true, rot: true });
label('Conjugation', 962, 656, { size: 33, italic: true, rot: true });

// legends
function key(x, y, w, h, color, text, tx) {
  const sq = document.createElement('div');
  sq.className = 'sq';
  Object.assign(sq.style, { left: x + 'px', top: y + 'px', width: w + 'px', height: h + 'px', background: color });
  document.body.appendChild(sq);
  const t = document.createElement('div');
  t.className = 'key';
  t.textContent = text;
  Object.assign(t.style, { left: tx + 'px', top: (y + h / 2) + 'px' });
  document.body.appendChild(t);
}
key(1164, 332, 27, 27, '#e6832a', 'host-derived', 1198);
key(1164, 361, 27, 27, '#fbb81c', 'microbe*-derived', 1198);
key(1126, 745, 25, 28, conjColors[3], 'glycine conjugated', 1158);
key(1126, 775, 25, 28, conjColors[2], 'taurine conjugated', 1158);
key(1126, 804, 25, 28, conjColors[1], 'unconjugated', 1158);
key(1126, 833, 25, 28, conjColors[0], 'sulfated', 1158);
</script>
</body>
</html>
